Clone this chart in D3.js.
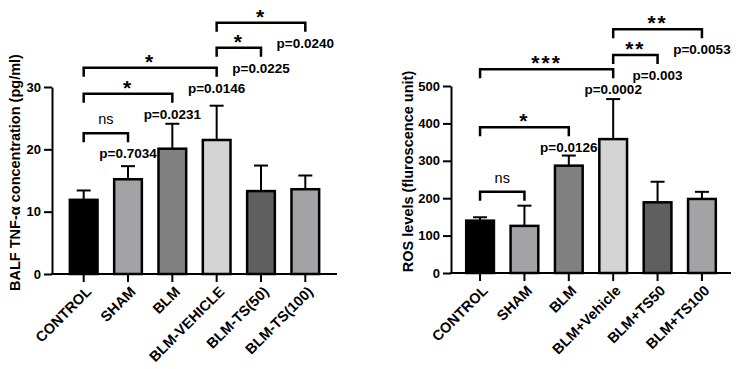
<!DOCTYPE html>
<html>
<head>
<meta charset="utf-8">
<script src="https://cdn.jsdelivr.net/npm/d3@7"></script>
<style>
  body { margin: 0; background: #fff; }
  svg { font-family: "Liberation Sans", Arial, sans-serif; }
  .axis path, .axis line { stroke: #000; stroke-width: 2px; }
  .axis text { font-size: 13px; font-weight: bold; fill: #000; }
</style>
</head>
<body>
<div id="chart"></div>
<script>
// ---- data: left panel (TNF-alpha) ----
const tnf_groups = ['CONTROL', 'SHAM', 'BLM', 'BLM-VEHICLE', 'BLM-TS(50)', 'BLM-TS(100)'];
const tnf_means = [11.9, 15.2, 20.1, 21.5, 13.3, 13.6];
const tnf_errors = [1.5, 2.1, 4.0, 5.5, 4.1, 2.2];
const tnf_ticks = [0, 10, 20, 30];
// comparisons: [from, to, mark, p-value, bracket height in data units]
const tnf_comparisons = [
    [0, 1, 'ns', 'p=0.7034', 22.6],
    [0, 2, '*', 'p=0.0231', 28.9],
    [0, 3, '*', 'p=0.0146', 33.1],
    [3, 4, '*', 'p=0.0225', 36.3],
    [3, 5, '*', 'p=0.0240', 40.3]
];

// ---- data: right panel (ROS) ----
const ros_groups = ['CONTROL', 'SHAM', 'BLM', 'BLM+Vehicle', 'BLM+TS50', 'BLM+TS100'];
const ros_means = [140, 126, 287, 358, 189, 198];
const ros_errors = [9, 54, 27, 107, 55, 19];
const ros_ticks = [0, 100, 200, 300, 400, 500];
const ros_comparisons = [
    [0, 1, 'ns', '', 217],
    [0, 2, '*', 'p=0.0126', 390],
    [0, 3, '***', 'p=0.0002', 545],
    [3, 4, '**', 'p=0.003', 583],
    [3, 5, '**', 'p=0.0053', 652]
];

const bar_colors = ['#000000', '#a3a3a5', '#808080', '#d4d4d4', '#5f5f5f', '#a3a3a5'];

const svg = d3.select('#chart').append('svg')
    .attr('width', 744)
    .attr('height', 369);

function draw_panel(opt){
    const g = svg.append('g');

    const x = d3.scaleBand()
        .domain(opt.groups)
        .range([opt.left, opt.right])
        .paddingInner(0.33)
        .paddingOuter(opt.outer);
    const y = d3.scaleLinear()
        .domain([0, opt.ymax])
        .range([opt.bottom, opt.top]);
    const cx = i => x(opt.groups[i]) + x.bandwidth() / 2;

    // y axis
    const y_axis = d3.axisLeft(y).tickValues(opt.ticks).tickSize(8).tickSizeOuter(0).tickPadding(3);
    g.append('g')
        .attr('class', 'y axis')
        .attr('transform', `translate(${opt.left},0)`)
        .call(y_axis);

    // y label
    g.append('text')
        .attr('transform', `translate(${opt.label_x},${(opt.top + opt.bottom) / 2 - 8}) rotate(-90)`)
        .attr('text-anchor', 'middle')
        .style('font-size', '14.5px')
        .style('font-weight', 'bold')
        .html(opt.label);

    // error bars (upper only)
    const err = g.append('g').attr('class', 'errors');
    opt.means.forEach((m, i) => {
        const top = y(m + opt.errors[i]);
        err.append('line')
            .attr('x1', cx(i)).attr('x2', cx(i))
            .attr('y1', y(m)).attr('y2', top)
            .attr('stroke', '#000').attr('stroke-width', 2);
        err.append('line')
            .attr('x1', cx(i) - 7).attr('x2', cx(i) + 7)
            .attr('y1', top).attr('y2', top)
            .attr('stroke', '#000').attr('stroke-width', 2);
    });

    // bars
    g.append('g').attr('class', 'bars')
        .selectAll('rect')
        .data(opt.means)
        .join('rect')
        .attr('x', (d, i) => x(opt.groups[i]) + 1)
        .attr('y', d => y(d))
        .attr('width', x.bandwidth() - 2)
        .attr('height', d => y(0) - y(d))
        .style('fill', (d, i) => bar_colors[i])
        .style('stroke', '#000')
        .style('stroke-width', 2.5);

    // x axis
    const x_axis = d3.axisBottom(x).tickSize(8).tickSizeOuter(0).tickFormat('');
    const xa = g.append('g')
        .attr('class', 'x axis')
        .attr('transform', `translate(0,${opt.bottom})`)
        .call(x_axis);
    xa.select('.domain').attr('d', `M${opt.left - 1},0H${opt.right}`);

    g.append('g').selectAll('text')
        .data(opt.groups)
        .join('text')
        .attr('transform', d => `translate(${x(d) + x.bandwidth() / 2 + 5},${opt.bottom + 15}) rotate(-45)`)
        .attr('text-anchor', 'end')
        .attr('dy', '0.35em')
        .style('font-size', '14.5px')
        .style('font-weight', 'bold')
        .text(d => d);

    // significance brackets
    const br = g.append('g').attr('class', 'brackets');
    opt.comparisons.forEach(c => {
        const [a, b, mark, p, h] = c;
        const x1 = cx(a), x2 = cx(b), yy = y(h);
        br.append('path')
            .attr('d', `M${x1},${yy + 9}V${yy}H${x2}V${yy + 9}`)
            .attr('fill', 'none')
            .attr('stroke', '#000')
            .attr('stroke-width', 2.5);
        if (mark === 'ns') {
            br.append('text')
                .attr('x', (x1 + x2) / 2)
                .attr('y', yy - 9)
                .attr('text-anchor', 'middle')
                .style('font-size', '14.5px')
                .text(mark);
        } else {
            br.append('text')
                .attr('x', (x1 + x2) / 2)
                .attr('y', yy + 1)
                .attr('text-anchor', 'middle')
                .style('font-size', '21px')
                .style('font-weight', 'bold')
                .style('letter-spacing', '2px')
                .text(mark);
        }
        if (p) {
            br.append('text')
                .attr('x', x2)
                .attr('y', yy + 25)
                .attr('text-anchor', 'middle')
                .style('font-size', '13.5px')
                .style('font-weight', 'bold')
                .text(p);
        }
    });
}

draw_panel({
    groups: tnf_groups, means: tnf_means, errors: tnf_errors, ticks: tnf_ticks,
    comparisons: tnf_comparisons, ymax: 30,
    left: 52, right: 337, outer: 0.38, top: 87, bottom: 274, label_x: 20,
    label: 'BALF TNF-&#945; concentration (pg/ml)'
});

draw_panel({
    groups: ros_groups, means: ros_means, errors: ros_errors, ticks: ros_ticks,
    comparisons: ros_comparisons, ymax: 500,
    left: 451, right: 731, outer: 0.32, top: 86, bottom: 273, label_x: 413,
    label: 'ROS levels (fluroscence unit)'
});
</script>
</body>
</html>
